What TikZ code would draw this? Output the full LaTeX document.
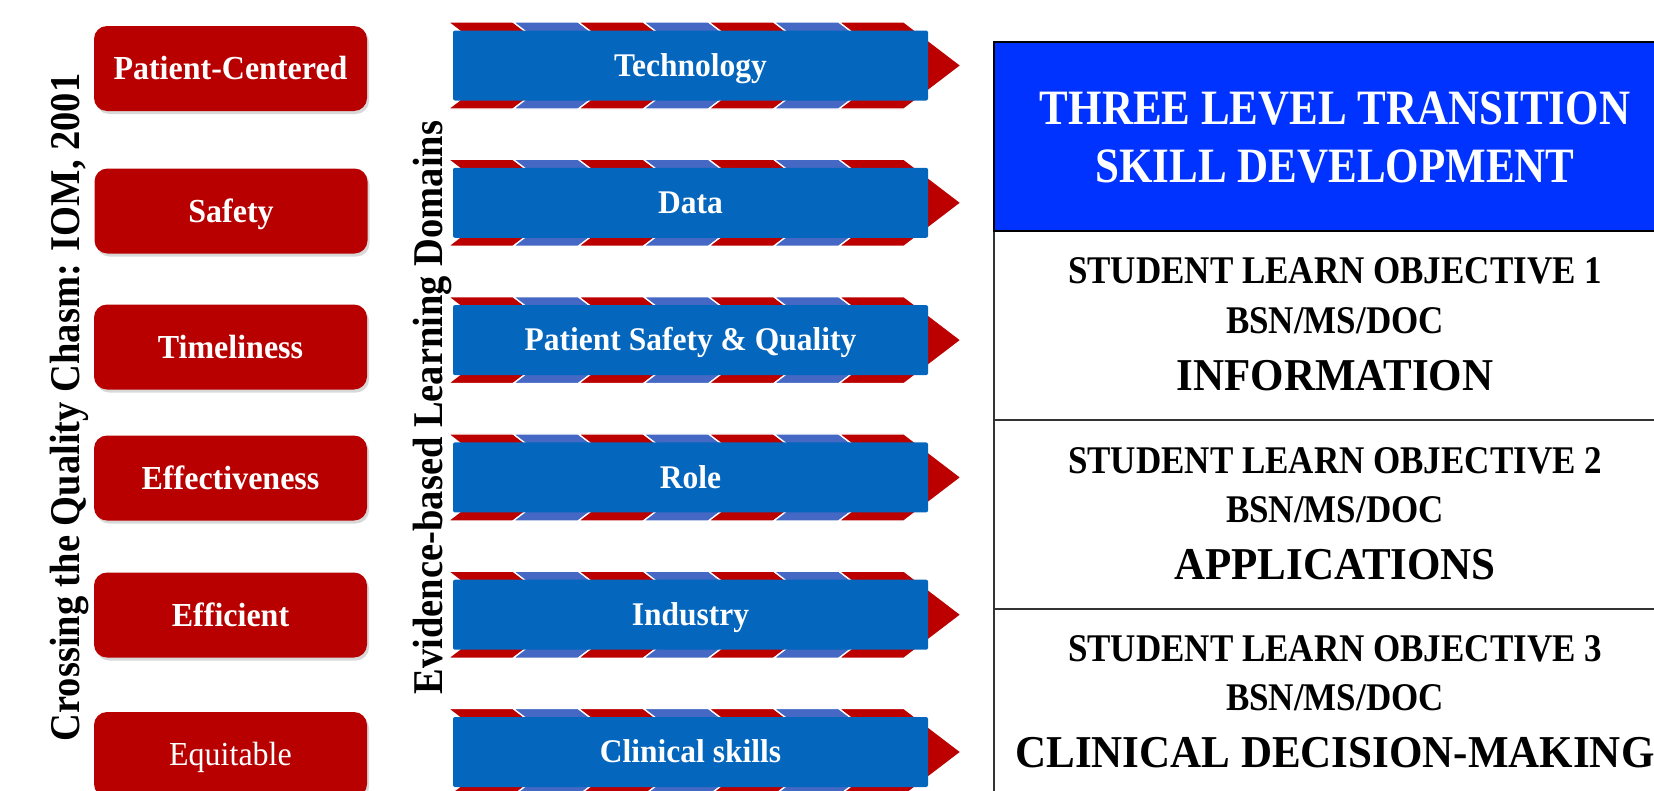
\documentclass[tikz,border=0pt]{standalone}
\usepackage{fontspec}
\setmainfont{Liberation Serif}
\usetikzlibrary{shadows}
\definecolor{boxred}{HTML}{B80000}
\definecolor{stripered}{HTML}{BC0000}
\definecolor{stripeblue}{HTML}{4468C4}
\definecolor{armblue}{HTML}{0566BD}
\definecolor{headblue}{HTML}{0033FF}
\newcommand{\vst}[2]{\scalebox{1}[#1]{#2}}
\newcommand{\domainarrow}[3]{%
  \foreach \k in {0,...,6} {%
    \pgfmathsetmacro{\xa}{448+65.14*\k}%
    \pgfmathsetmacro{\xb}{\xa+65.14}%
    \ifodd\k\def\sc{stripeblue}\else\def\sc{stripered}\fi
    \path[fill=\sc, draw=white, line width=1.3pt]
      (\xa,#2-43.5) -- (\xb,#2-43.5) -- (\xb+57,#2) -- (\xb,#2+43.5)
      -- (\xa,#2+43.5) -- (\xa+57,#2) -- cycle;
  }
  \node[armrect] (#1) at (690.5,#2) {\vst{1.05}{#3}};
}
\begin{document}
\begin{tikzpicture}[x=1pt,y=-1pt,
  qualbox/.style={fill=boxred, rounded corners=13pt, minimum width=273pt,
    minimum height=85pt, inner sep=0pt, text=white,
    font=\fontsize{32}{38}\selectfont\bfseries, text height=22pt, text depth=0pt,
    drop shadow={shadow xshift=2pt, shadow yshift=-3pt, opacity=0.3}},
  armrect/.style={fill=armblue, rounded corners=2pt, minimum width=475pt,
    minimum height=70pt, inner sep=0pt, text=white,
    font=\fontsize{31.5}{38}\selectfont\bfseries, text height=21.7pt, text depth=0pt},
  sidetitle/.style={rotate=90, inner sep=0pt, font=\fontsize{38.5}{44}\selectfont\bfseries,
    text height=27.7pt, text depth=0pt},
  tabsmall/.style={inner sep=0pt, font=\fontsize{35}{42}\selectfont\bfseries,
    text height=25.7pt, text depth=0pt},
  tabbig/.style={inner sep=0pt, font=\fontsize{43}{50}\selectfont\bfseries,
    text height=30pt, text depth=0pt},
  tabhead/.style={inner sep=0pt, font=\fontsize{43}{50}\selectfont\bfseries,
    text height=32.4pt, text depth=0pt, text=white},
  tabrow/.style={draw=black!80, line width=1.5pt, minimum width=684pt,
    minimum height=189pt, anchor=north west, inner sep=0pt}
]
\fill[white] (0,0) rectangle (1654,790);
\useasboundingbox (0,0) rectangle (1654,790);
\clip (0,0) rectangle (1654,790);

% left column
\node[qualbox] (pc) at (230.5,68.5) {\vst{1.05}{Patient-Centered}};
\node[qualbox] (sa) at (231,211) {\vst{1.05}{Safety}};
\node[qualbox] (ti) at (230.5,347) {\vst{1.05}{Timeliness}};
\node[qualbox] (ef) at (230.5,478) {\vst{1.05}{Effectiveness}};
\node[qualbox] (eff) at (230.5,615) {\vst{1.05}{Efficient}};
\node[qualbox, font=\fontsize{32}{38}\selectfont] (eq) at (230.5,754.5) {\vst{1.05}{Equitable}};

\node[sidetitle] (iom) at (66,407.5) {\vst{1.1}{Crossing the Quality Chasm: IOM, 2001}};
\node[sidetitle] (ebl) at (429,407.5) {\vst{1.1}{Evidence-based Learning Domains}};

% arrows
\domainarrow{tech}{65.5}{Technology}
\domainarrow{data}{202.8}{Data}
\domainarrow{psq}{340.1}{Patient Safety \& Quality}
\domainarrow{role}{477.4}{Role}
\domainarrow{ind}{614.7}{Industry}
\domainarrow{clin}{752}{Clinical skills}

% table
\node[tabrow] (r1) at (993,230) {};
\node[tabrow] (r2) at (993,419) {};
\node[tabrow] (r3) at (993,608) {};
\node[tabrow, draw=black, line width=2pt, fill=headblue] (head) at (993,41) {};

\node[tabhead] (h1) at (1335,108) {\vst{1.15}{THREE LEVEL TRANSITION}};
\node[tabhead] (h2) at (1335,166) {\vst{1.15}{SKILL DEVELOPMENT}};

\node[tabsmall] (o1) at (1335,271) {\vst{1.12}{STUDENT LEARN OBJECTIVE 1}};
\node[tabsmall] (b1) at (1335,321) {\vst{1.12}{BSN/MS/DOC}};
\node[tabbig] (l1) at (1335,375) {\vst{1.06}{INFORMATION}};

\node[tabsmall] (o2) at (1335,461) {\vst{1.12}{STUDENT LEARN OBJECTIVE 2}};
\node[tabsmall] (b2) at (1335,509.5) {\vst{1.12}{BSN/MS/DOC}};
\node[tabbig] (l2) at (1335,564) {\vst{1.06}{APPLICATIONS}};

\node[tabsmall] (o3) at (1335,649) {\vst{1.12}{STUDENT LEARN OBJECTIVE 3}};
\node[tabsmall] (b3) at (1335,698) {\vst{1.12}{BSN/MS/DOC}};
\node[tabbig] (l3) at (1335,752) {\vst{1.06}{CLINICAL DECISION-MAKING}};
\end{tikzpicture}
\end{document}
